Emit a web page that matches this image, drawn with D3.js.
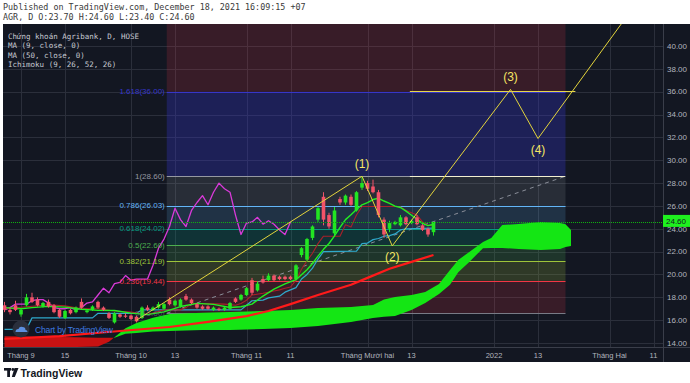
<!DOCTYPE html>
<html><head><meta charset="utf-8">
<script src="https://cdn.jsdelivr.net/npm/d3@7/dist/d3.min.js"></script>
<style>html,body{margin:0;padding:0;background:#fff;}svg{display:block}</style>
</head><body>
<svg id="chart" width="690" height="383"></svg>
<script>
// ---------------- DATA ----------------
const headerLines = ["Published on TradingView.com, December 18, 2021 16:09:15 +07",
                     "AGR, D O:23.70 H:24.60 L:23.40 C:24.60"];
const legendLines = ["Chứng khoán Agribank, D, HOSE","MA (9, close, 0)","MA (50, close, 0)","Ichimoku (9, 26, 52, 26)"];

// daily bars, first bar index = -3 (index 0 = 1 Sep 2021)
const firstBar = -3;
const opens  = [17.3,16.9,17.3,16.5,17.3,18.0,17.8,17.2,17.6,17.3,16.9,16.2,16.9,16.7,17.6,16.7,16.9,17.6,17.1,16.6,15.8,16.5,16.4,16.4,16.3,16.2,17.1,16.9,17.1,17.0,17.8,17.3,17.2,18.1,17.8,17.4,17.2,17.2,16.9,17.0,16.9,17.0,17.9,17.8,18.2,19.5,18.6,19.6,19.5,19.9,19.8,19.8,19.8,19.6,21.7,21.3,23.2,24.8,26.8,25.2,23.6,26.6,26.3,26.8,25.6,27.6,28.0,27.7,27.2,24.8,24.0,24.4,24.3,25.0,24.5,25.0,24.3,24.0,23.7];
const highs  = [17.6,17.1,17.7,17.0,18.3,18.4,18.0,17.6,17.8,17.4,17.0,16.9,17.0,17.2,17.9,16.9,17.3,17.7,17.2,16.7,16.7,16.6,16.6,16.5,16.4,17.2,17.3,17.2,17.6,17.5,18.0,17.8,17.9,18.3,17.9,17.5,17.3,17.3,17.2,17.1,17.2,17.6,18.0,18.3,18.9,19.7,19.4,19.9,20.1,20.0,19.9,19.9,19.9,20.9,22.4,23.2,24.3,25.9,27.2,25.4,25.9,26.8,27.0,27.0,27.3,28.6,28.2,28.3,27.4,25.0,24.7,24.7,25.2,25.1,24.8,25.2,24.4,24.1,24.6];
const lows   = [16.7,16.5,16.8,16.3,17.2,17.5,17.2,17.1,17.1,16.6,16.2,16.1,16.5,16.6,17.0,16.6,16.8,17.0,16.8,16.1,15.7,16.2,16.2,16.0,15.8,16.1,16.8,16.8,17.0,16.9,17.3,17.2,17.1,17.7,17.4,17.0,16.9,16.9,16.8,16.8,16.8,16.9,17.5,17.7,18.1,18.2,18.5,19.2,19.4,19.4,19.5,19.5,19.5,19.5,21.5,21.1,23.0,24.6,24.3,24.0,23.3,26.1,26.1,26.0,25.5,27.4,27.3,27.1,25.0,23.2,23.7,24.3,24.2,24.3,24.4,24.3,23.8,23.3,23.4];
const closes = [16.9,16.7,16.9,16.9,18.0,17.6,17.3,17.5,17.2,16.7,16.3,16.8,16.6,17.1,17.1,16.85,17.2,17.1,16.9,16.2,16.6,16.3,16.3,16.1,15.9,17.1,16.9,17.1,17.4,17.4,17.4,17.7,17.8,17.8,17.5,17.1,17.0,17.0,17.1,16.9,17.1,17.5,17.6,18.2,18.8,18.4,19.2,19.3,19.9,19.5,19.6,19.6,19.6,20.8,22.3,23.1,24.2,25.8,24.8,24.2,25.6,26.3,26.9,26.1,27.2,28.0,27.5,27.2,25.2,23.5,24.5,24.6,25.0,24.4,24.7,24.4,23.9,23.5,24.6];
const lastPrice = 24.60;
const laggingShift = 26;

// indicator lines (bar index, price)
const ma9Idx = [-3,0,2,5,8,11,14,17,20,23,26,29,32,35,38,40,42,44,46,48,50,51,52,53,54,55,56,57,58,59,60,61,62,63,64,65,66,67,68,69,70,71,72,73,74,75];
const ma9Val = [17.1,17.0,17.1,17.21,17.14,16.96,16.86,16.85,16.62,16.48,16.72,17.19,17.47,17.38,17.11,17.17,17.4,18.11,18.71,19.17,19.54,19.98,20.41,20.96,21.61,22.2,22.71,23.38,24.12,24.8,25.22,25.68,26.1,26.29,26.56,26.67,26.43,26.23,25.98,25.86,25.54,25.18,24.83,24.47,24.28,24.4];
const ma50Idx = [-3,7,18,27,34,41,45,49,54,60,63,67,71,75];
const ma50Val = [14.35,14.6,15.05,15.4,15.85,16.35,16.8,17.4,18.2,19.1,19.7,20.5,21.1,21.7];
const tenkanIdx = [-3,5,8,11,14,17,20,23,26,29,30,31,34,37,39,40,41,42,44,45,46,47,48,49,50,51,52,53,54,55,58,59,60,61,62,68,69,70,72,73,74,75];
const tenkanVal = [17.0,17.35,17.25,17.0,17.0,16.8,16.7,16.5,16.9,16.9,17.1,17.45,17.45,17.4,17.3,17.45,17.75,18.2,18.35,18.45,18.55,18.65,18.8,18.9,19.5,20.45,21.2,21.85,22.7,23.35,23.35,24.35,24.15,25.2,25.95,25.95,25.9,25.6,25.2,24.6,24.3,24.3];
const kijunIdx = [-3,1,2,13,14,21,22,40,41,42,44,45,47,48,50,51,52,53,54,55,61,62,63,64,65,66,67,68,69,70,75];
const kijunVal = [15.2,15.2,16.2,16.2,16.6,16.6,16.9,16.9,17.3,17.7,17.75,17.95,18.1,18.45,18.85,19.6,20.0,20.55,21.35,22.0,22.05,22.7,22.75,23.05,23.15,23.35,23.4,23.55,23.9,24.0,24.05];
const cloudIdx = [-3,4,10,14,16,17,19,21,24,27,33,38,44,49,54,60,64,66,68,71,73.5,76,78,79.5,81.5,84,85.5,87.5,90.5,94.5,98,99,100];
const spanA = [13.6,13.6,13.65,13.7,14.1,14.5,15.3,15.75,16.2,16.54,16.65,16.71,16.8,16.89,17.06,17.15,17.33,17.8,18.03,18.2,18.47,19.17,20.39,21.27,21.97,22.84,23.19,24.33,24.42,24.6,24.5,24.4,23.9];
const spanB = [14.6,14.55,14.5,14.45,14.45,14.45,14.8,14.88,15.0,15.05,15.14,15.14,15.23,15.31,15.49,15.84,16.19,16.3,16.36,16.89,17.5,18.3,19.1,20.2,21.1,22.3,22.32,22.32,22.23,22.14,22.23,22.4,22.5];

// Fibonacci retracement
const fibRatios = ["0","0.236","0.382","0.5","0.618","0.786","1","1.618","2.618"];
const fibPrices = [16.60,19.44,21.19,22.60,24.02,26.03,28.60,36.00,48.00];
const fibStartIdx = 26.5, fibEndIdx = 99;

// Elliott wave drawing
const waveLabels = ["","(1)","(2)","(3)","(4)",""];
const waveIdx = [21,62,67.5,89,94,110];
const wavePrice = [16.0,28.6,22.5,36.2,31.9,42.5];
const hLinePrices = [36.1,28.6];
const hLineStart = [70.7,70.7];
const hLineEnd = [100.8,98.9];

// axes
const priceTicks = [14,16,18,20,22,24,26,28,30,32,34,36,38,40];
const timeTickIdx = [0,8,20,28,41,49,63,71,86,94,107,115];
const timeTickLabels = ["Tháng 9","15","Tháng 10","13","Tháng 11","11","Tháng Mười hai","13","2022","13","Tháng Hai","11"];

// ---------------- DRAW ----------------
const svg = d3.select("#chart");
const P = {l:3, r:663, t:24, b:347};
const x = d3.scaleLinear().domain([0,115]).range([21,653.5]);
const y = d3.scaleLinear().domain([14,40]).range([343,46]);
const sans = "'Liberation Sans', Arial, sans-serif";
const mono = "'DejaVu Sans Mono', monospace";

svg.append("rect").attr("width",690).attr("height",383).attr("fill","#ffffff");
svg.append("rect").attr("x",3).attr("y",24).attr("width",687).attr("height",338).attr("fill","#131722");

svg.append("defs").append("clipPath").attr("id","pane")
  .append("rect").attr("x",P.l).attr("y",P.t).attr("width",P.r-P.l).attr("height",P.b-P.t);
const g = svg.append("g").attr("clip-path","url(#pane)");

// grid
const gridC = "#2b2f3b";
priceTicks.forEach(p=>{
  const yy = Math.round(y(p))+0.5;
  g.append("line").attr("x1",P.l).attr("x2",P.r).attr("y1",yy).attr("y2",yy).attr("stroke",gridC);
});
timeTickIdx.forEach(i=>{
  const xx = Math.round(x(i))+0.5;
  g.append("line").attr("x1",xx).attr("x2",xx).attr("y1",P.t).attr("y2",P.b).attr("stroke",gridC);
});

// fib zones
const fibColors = ["#787b86","#f23645","#9fc43a","#4caf50","#089981","#64b5f6","#9598a1","#3636c8","#f23645"];
const fibAlpha  = [0,0.17,0.2,0.2,0.22,0.17,0.17,0.32,0.17];
const fx0 = x(fibStartIdx), fx1 = x(fibEndIdx);
for(let k=1;k<fibPrices.length;k++){
  const y0 = y(fibPrices[k]), y1 = y(fibPrices[k-1]);
  g.append("rect").attr("x",fx0).attr("width",fx1-fx0).attr("y",y0).attr("height",y1-y0)
    .attr("fill",fibColors[k]).attr("fill-opacity",fibAlpha[k]);
}
for(let k=0;k<fibPrices.length-1;k++){
  const yy = Math.round(y(fibPrices[k]))+0.5;
  g.append("line").attr("x1",fx0).attr("x2",fx1).attr("y1",yy).attr("y2",yy)
    .attr("stroke",fibColors[k]).attr("stroke-width",1);
}
// fib trend (dashed)
g.append("line").attr("x1",fx0).attr("y1",y(fibPrices[0])).attr("x2",fx1).attr("y2",y(fibPrices[6]))
  .attr("stroke","#8a8e99").attr("stroke-dasharray","4,4").attr("stroke-width",1);

// ichimoku cloud
const cloudPts = [];
for(let k=0;k<cloudIdx.length;k++){
  if(k>0){
    const d0 = spanA[k-1]-spanB[k-1], d1 = spanA[k]-spanB[k];
    if(d0*d1<0){
      const t = d0/(d0-d1);
      const ci = cloudIdx[k-1]+t*(cloudIdx[k]-cloudIdx[k-1]);
      const cv = spanA[k-1]+t*(spanA[k]-spanA[k-1]);
      cloudPts.push({i:ci,a:cv,b:cv});
    }
  }
  cloudPts.push({i:cloudIdx[k],a:spanA[k],b:spanB[k]});
}
g.append("path").datum(cloudPts)
  .attr("d",d3.area().x(d=>x(d.i)).y0(d=>y(d.b)).y1(d=>y(Math.max(d.a,d.b))))
  .attr("fill","#14e614");
g.append("path").datum(cloudPts)
  .attr("d",d3.area().x(d=>x(d.i)).y0(d=>y(d.a)).y1(d=>y(Math.max(d.a,d.b))))
  .attr("fill","#c81212");

function drawLine(idx, val, color, w){
  const pts = idx.map((i,k)=>[x(i),y(val[k])]);
  g.append("path").datum(pts).attr("d",d3.line()).attr("fill","none")
    .attr("stroke",color).attr("stroke-width",w).attr("stroke-linejoin","round");
}
// lagging span (close shifted back)
const lagIdx = [], lagVal = [];
for(let k=0;k<closes.length;k++){
  const i = firstBar + k - laggingShift;
  if(i >= firstBar){ lagIdx.push(i); lagVal.push(closes[k]); }
}
drawLine(lagIdx, lagVal, "#d93ad9", 1.3);
drawLine(kijunIdx, kijunVal, "#2fa9cc", 1.2);
drawLine(tenkanIdx, tenkanVal, "#a8202a", 1.1);
drawLine(ma50Idx, ma50Val, "#ff1a1a", 2.2);
drawLine(ma9Idx, ma9Val, "#22ee22", 1.4);

// candles
const upC = "#22e622", dnC = "#f25369", bw = 3.6;
closes.forEach((c,k)=>{
  const i = firstBar + k, o = opens[k];
  const col = c >= o ? upC : dnC;
  const cx = x(i);
  g.append("line").attr("x1",cx).attr("x2",cx).attr("y1",y(highs[k])).attr("y2",y(lows[k]))
    .attr("stroke",col).attr("stroke-width",1);
  const top = y(Math.max(o,c)), bot = y(Math.min(o,c));
  g.append("rect").attr("x",cx-bw/2).attr("width",bw).attr("y",top).attr("height",Math.max(1,bot-top))
    .attr("fill",col);
});

// last price dotted line
const lpY = Math.round(y(lastPrice))+0.5;
g.append("line").attr("x1",P.l).attr("x2",P.r).attr("y1",lpY).attr("y2",lpY)
  .attr("stroke","#10b010").attr("stroke-dasharray","1,1").attr("stroke-width",1);

// horizontal target lines
const hCols = ["#e6d84a","#f2efd0"];
hLinePrices.forEach((p,k)=>{
  const yy = Math.round(y(p))+0.5;
  g.append("line").attr("x1",x(hLineStart[k])).attr("x2",x(hLineEnd[k])).attr("y1",yy).attr("y2",yy)
    .attr("stroke",hCols[k]).attr("stroke-width",1.2);
});

// wave lines
const wavePts = waveIdx.map((i,k)=>[x(i),y(wavePrice[k])]);
g.append("path").datum(wavePts).attr("d",d3.line()).attr("fill","none")
  .attr("stroke","#e3d43c").attr("stroke-width",1);
const wOff = [0,-8,15,-8,15,0];
waveLabels.forEach((t,k)=>{
  if(!t) return;
  g.append("text").attr("x",x(waveIdx[k])).attr("y",y(wavePrice[k])+wOff[k])
    .attr("text-anchor","middle").attr("font-family",sans).attr("font-size",12)
    .attr("fill","#f5e663").text(t);
});

// fib labels
for(let k=0;k<fibPrices.length-1;k++){
  svg.append("text").attr("x",fx0-2).attr("y",y(fibPrices[k])).attr("dy","0.35em")
    .attr("text-anchor","end").attr("font-family",sans).attr("font-size",8)
    .attr("fill",fibColors[k]).attr("fill-opacity",k===0?0.6:1)
    .text(fibRatios[k]+"("+fibPrices[k].toFixed(2)+")");
}

// axes
svg.append("line").attr("x1",P.r+0.5).attr("x2",P.r+0.5).attr("y1",P.t).attr("y2",362).attr("stroke","#3a3e4a");
svg.append("line").attr("x1",P.l).attr("x2",690).attr("y1",P.b+0.5).attr("y2",P.b+0.5).attr("stroke","#3a3e4a");
priceTicks.forEach(p=>{
  svg.append("text").attr("x",667).attr("y",y(p)).attr("dy","0.35em")
    .attr("font-family",sans).attr("font-size",8).attr("fill","#b2b5be").text(p.toFixed(2));
});
timeTickIdx.forEach((i,k)=>{
  svg.append("text").attr("x",x(i)).attr("y",357.5).attr("text-anchor","middle")
    .attr("font-family",sans).attr("font-size",7.5).attr("fill","#b2b5be").text(timeTickLabels[k]);
});
// last price label
const lpc = y(lastPrice)-1;
svg.append("rect").attr("x",P.r).attr("y",lpc-6).attr("width",27).attr("height",12).attr("fill","#1ef01e");
svg.append("text").attr("x",666).attr("y",lpc).attr("dy","0.35em")
  .attr("font-family",sans).attr("font-size",8).attr("fill","#131722").text(lastPrice.toFixed(2));

// header
headerLines.forEach((t,k)=>{
  svg.append("text").attr("x",3).attr("y",9.5+k*10.5).attr("font-family",mono).attr("font-size",8.4)
    .attr("fill","#3a3a3a").text(t);
});
// legend
legendLines.forEach((t,k)=>{
  svg.append("text").attr("x",8).attr("y",38.5+k*9.5).attr("font-family",mono).attr("font-size",7.5)
    .attr("fill","#c5c8d0").text(t);
});

// watermark badge
svg.append("circle").attr("cx",21).attr("cy",329).attr("r",8.5).attr("fill","#2a2f3c");
svg.append("path").attr("d","M15.5,332 q0,-3 3,-3 q1,-3 4,-2 q3,0 3,3 q2,0 2,2 z").attr("fill","#5d8fe0");
svg.append("text").attr("x",35).attr("y",332.5).attr("font-family",sans).attr("font-size",8.6)
  .attr("textLength",78).attr("fill","#3f7be0").text("Chart by TradingView");

// bottom logo
const lg = svg.append("g").attr("fill","#131722");
lg.append("rect").attr("x",4).attr("y",368).attr("width",7).attr("height",2.6);
lg.append("rect").attr("x",7.2).attr("y",368).attr("width",2.8).attr("height",9);
lg.append("circle").attr("cx",12.8).attr("cy",369.5).attr("r",1.4);
lg.append("path").attr("d","M14.5,368 L18.5,368 L14.8,377 L11.8,377 Z");
svg.append("text").attr("x",20.5).attr("y",376.5).attr("font-family",sans).attr("font-size",10.5)
  .attr("font-weight",600).attr("fill","#131722").text("TradingView");
</script>
</body></html>
